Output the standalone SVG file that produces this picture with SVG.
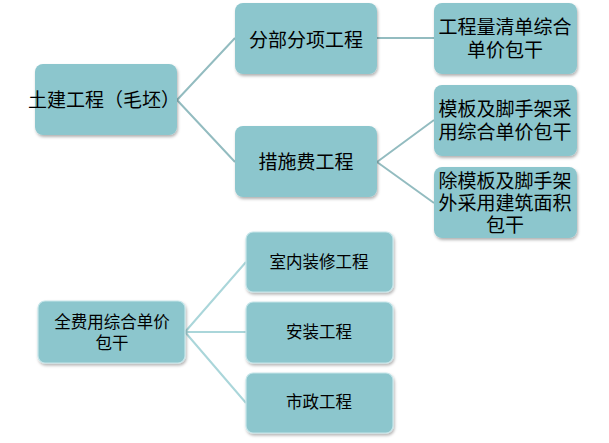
<svg xmlns="http://www.w3.org/2000/svg" width="609" height="443" viewBox="0 0 609 443">
<defs>
<filter id="sh" x="-10%" y="-10%" width="125%" height="130%">
<feDropShadow dx="1" dy="2" stdDeviation="1.5" flood-color="#000" flood-opacity="0.3"/>
</filter>
<style>
.box{fill:#8CC6CD;filter:url(#sh);}
.box2{fill:#8CC6CD;stroke:#C6E6EA;stroke-width:1.2;filter:url(#sh);}
.t{font-family:"Noto Sans CJK SC","Liberation Sans",sans-serif;font-size:19px;fill:#000;text-anchor:middle;}
.s{font-family:"Noto Sans CJK SC","Liberation Sans",sans-serif;font-size:16.5px;fill:#000;text-anchor:middle;}
.c1{stroke:#93BCC0;stroke-width:2;fill:none;}
.c2{stroke:#AAD6DA;stroke-width:2;fill:none;}
</style>
</defs>
<rect width="609" height="443" fill="#fff"/>
<g id="connectors">
<path class="c1" d="M177,100 L235,38 M177,100 L235,162 M377,38 L434,38 M377,162 L434,120 M377,162 L434,203"/>
<path class="c2" d="M185,332 L246,262 M185,332 L246,332 M185,332 L246,403"/>
</g>
<g id="n1"><rect class="box" x="35" y="64" width="142" height="71" rx="8"/><text class="t" x="104" y="107">土建工程（毛坯）</text></g>
<g id="n2"><rect class="box" x="235" y="3" width="142" height="71" rx="8"/><text class="t" x="306" y="47">分部分项工程</text></g>
<g id="n3"><rect class="box" x="235" y="126" width="142" height="71" rx="8"/><text class="t" x="306" y="169">措施费工程</text></g>
<g id="n4"><rect class="box" x="434" y="3" width="143" height="71" rx="8"/><text class="t" x="505" y="34">工程量清单综合</text><text class="t" x="505" y="57">单价包干</text></g>
<g id="n5"><rect class="box" x="434" y="85" width="143" height="71" rx="8"/><text class="t" x="505" y="116">模板及脚手架采</text><text class="t" x="505" y="139">用综合单价包干</text></g>
<g id="n6"><rect class="box" x="434" y="167" width="143" height="71" rx="8"/><text class="t" x="505" y="188">除模板及脚手架</text><text class="t" x="505" y="210">外采用建筑面积</text><text class="t" x="505" y="232">包干</text></g>
<g id="n7"><rect class="box2" x="38" y="301" width="147" height="62" rx="7"/><text class="s" x="112" y="328">全费用综合单价</text><text class="s" x="112" y="349">包干</text></g>
<g id="n8"><rect class="box2" x="246" y="232" width="147" height="60" rx="7"/><text class="s" x="319" y="268">室内装修工程</text></g>
<g id="n9"><rect class="box2" x="246" y="302" width="147" height="61" rx="7"/><text class="s" x="319" y="338">安装工程</text></g>
<g id="n10"><rect class="box2" x="246" y="373" width="147" height="60" rx="7"/><text class="s" x="319" y="408">市政工程</text></g>
</svg>
